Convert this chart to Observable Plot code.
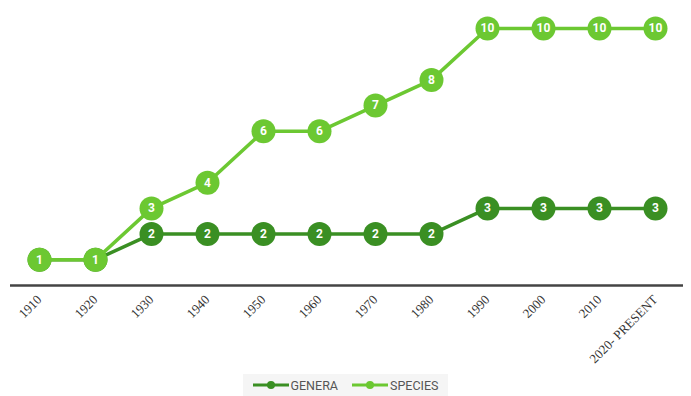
<!DOCTYPE html>
<html>
<head>
<meta charset="utf-8">
<script src="https://cdn.jsdelivr.net/npm/d3@7"></script>
<script src="https://cdn.jsdelivr.net/npm/@observablehq/plot@0.6"></script>
<style>
  body { margin: 0; background: #fff; }
  #legend { display: flex; justify-content: center; margin-top: 4px; }
  #legend .box { display: flex; gap: 14px; align-items: center; background: #f5f5f5; padding: 2px 10px; font-family: Roboto, sans-serif; font-size: 12.5px; color: #555; height: 18px; }
  #legend .item { display: flex; align-items: center; gap: 2px; }
</style>
</head>
<body>
<div id="chart"></div>
<div id="legend"></div>
<script>
const decades = ["1910","1920","1930","1940","1950","1960","1970","1980","1990","2000","2010","2020- PRESENT"];
const genera  = [1,1,2,2,2,2,2,2,3,3,3,3];
const species = [1,1,3,4,6,6,7,8,10,10,10,10];
const seriesNames = ["GENERA","SPECIES"];
const seriesColors = ["#3a8f23","#6cc832"];

const data = [];
decades.forEach((d,i) => {
  data.push({decade: d, value: genera[i], series: "GENERA"});
  data.push({decade: d, value: species[i], series: "SPECIES"});
});
const gen = data.filter(d => d.series === "GENERA");
const spe = data.filter(d => d.series === "SPECIES");

const chart = Plot.plot({
  width: 691,
  height: 370,
  marginLeft: 37,
  marginRight: 35,
  marginTop: 28,
  marginBottom: 85,
  x: {type: "point", domain: decades, padding: 0},
  y: {domain: [0, 10], axis: null},
  color: {domain: seriesNames, range: seriesColors},
  marks: [
    Plot.ruleY([0], {stroke: "#444", strokeWidth: 2.5, insetLeft: -27, insetRight: -27}),
    Plot.axisX({tickRotate: -45, tickSize: 0, tickPadding: 12, fontFamily: "'Liberation Serif', serif", fontSize: 13, fill: "#333", label: null}),
    Plot.line(gen, {x: "decade", y: "value", stroke: seriesColors[0], strokeWidth: 3.5}),
    Plot.dot(gen, {x: "decade", y: "value", r: 12, fill: seriesColors[0], stroke: "none"}),
    Plot.text(gen, {x: "decade", y: "value", text: d => String(d.value), fill: "white", fontWeight: "bold", fontSize: 12, fontFamily: "Roboto, sans-serif"}),
    Plot.line(spe, {x: "decade", y: "value", stroke: seriesColors[1], strokeWidth: 3.5}),
    Plot.dot(spe, {x: "decade", y: "value", r: 12, fill: seriesColors[1], stroke: "none"}),
    Plot.text(spe, {x: "decade", y: "value", text: d => String(d.value), fill: "white", fontWeight: "bold", fontSize: 12, fontFamily: "Roboto, sans-serif"})
  ]
});
document.getElementById("chart").appendChild(chart);

const box = document.createElement("div");
box.className = "box";
seriesNames.forEach((name, i) => {
  const item = document.createElement("div");
  item.className = "item";
  item.innerHTML = `<svg width="36" height="10"><line x1="0" x2="36" y1="5" y2="5" stroke="${seriesColors[i]}" stroke-width="3"/><circle cx="18" cy="5" r="4" fill="${seriesColors[i]}"/></svg><span>${name}</span>`;
  box.appendChild(item);
});
document.getElementById("legend").appendChild(box);
</script>
</body>
</html>
